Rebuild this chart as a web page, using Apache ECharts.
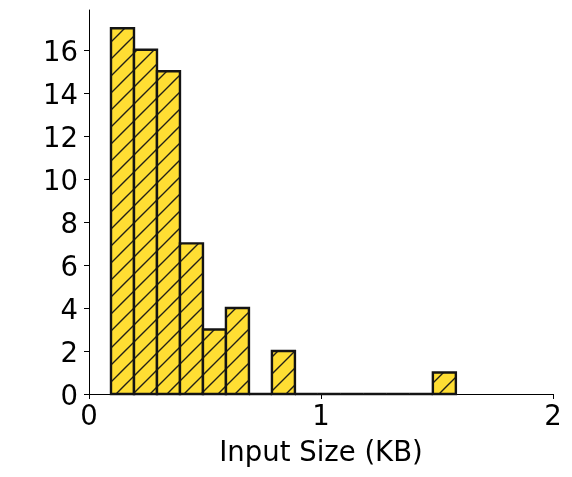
<!DOCTYPE html>
<html>
<head>
<meta charset="utf-8">
<script src="https://cdn.jsdelivr.net/npm/echarts@6/dist/echarts.min.js"></script>
<style>
html,body{margin:0;padding:0;background:#fff;}
#main{width:572px;height:477px;}
</style>
</head>
<body>
<div id="main"></div>
<script>
// bins (KB) and counts
var binStart = 0.0948;
var binWidth = 0.0991;
var counts = [17, 16, 15, 7, 3, 4, 0, 2, 0, 0, 0, 0, 0, 0, 1];
var yTicks = [0, 2, 4, 6, 8, 10, 12, 14, 16];
var xTicks = [0, 1, 2];

var data = [];
for (var i = 0; i < counts.length; i++) {
	data.push([binStart + i * binWidth, binStart + (i + 1) * binWidth, counts[i]]);
}

// hatch pattern "/"
function makeHatch() {
	var s = 17;
	var c = document.createElement('canvas');
	c.width = s; c.height = s;
	var ctx = c.getContext('2d');
	ctx.fillStyle = '#FFDE33';
	ctx.fillRect(0, 0, s, s);
	ctx.strokeStyle = '#222018';
	ctx.lineWidth = 1.4;
	ctx.beginPath();
	ctx.moveTo(-1, s + 1); ctx.lineTo(s + 1, -1);
	ctx.moveTo(-1, 1); ctx.lineTo(1, -1);
	ctx.moveTo(s - 1, s + 1); ctx.lineTo(s + 1, s - 1);
	ctx.stroke();
	return c;
}
var hatch = makeHatch();

var myChart = echarts.init(document.getElementById('main'));
var font = 'DejaVu Sans';
var option = {
	animation: false,
	grid: { left: 89, right: 19, top: 10, bottom: 83 },
	xAxis: {
		type: 'value',
		min: 0,
		max: 2,
		interval: 1,
		name: 'Input Size (KB)',
		nameLocation: 'middle',
		nameGap: 46,
		nameTextStyle: { fontFamily: font, fontSize: 27.5, color: '#000' },
		axisLine: { show: true, lineStyle: { color: '#000', width: 1 } },
		axisTick: { show: true, length: 5, lineStyle: { color: '#000' } },
		axisLabel: { fontFamily: font, fontSize: 27.5, color: '#000', margin: 10, customValues: xTicks },
		splitLine: { show: false }
	},
	yAxis: {
		type: 'value',
		min: 0,
		max: 17.85,
		interval: 2,
		axisLine: { show: true, lineStyle: { color: '#000', width: 1 } },
		axisTick: { show: true, length: 5, lineStyle: { color: '#000' }, customValues: yTicks },
		axisLabel: {
			margin: 11,
			customValues: yTicks,
			formatter: '{v|{value}}',
			rich: { v: { fontFamily: font, fontSize: 27.5, color: '#000', padding: [8, 0, 0, 0] } }
		},
		splitLine: { show: false }
	},
	series: [{
		type: 'custom',
		data: data,
		encode: { x: [0, 1], y: 2 },
		renderItem: function (params, api) {
			var p0 = api.coord([api.value(0), 0]);
			var p1 = api.coord([api.value(1), api.value(2)]);
			return {
				type: 'rect',
				shape: { x: p0[0], y: p1[1], width: p1[0] - p0[0], height: p0[1] - p1[1] },
				style: {
					fill: { image: hatch, repeat: 'repeat' },
					stroke: '#141414',
					lineWidth: 2.4
				}
			};
		}
	}]
};
myChart.setOption(option, true);
</script>
</body>
</html>
